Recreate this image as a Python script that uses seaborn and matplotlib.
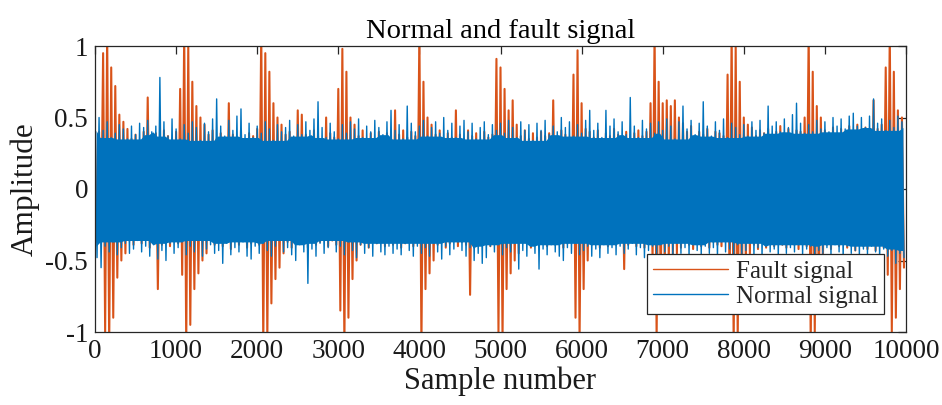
import numpy as np
import pandas as pd
import matplotlib
matplotlib.use("Agg")
import matplotlib.pyplot as plt
import seaborn as sns

# ---- data: per-50-sample envelope extremes ----
bin_width = 50

normal_upper = [
    .46, .50, .41, .47, .36, .39, .45, .42, .35, .44,
    .38, .46, .43, .48, .40, .44, .78, .47, .37, .49,
    .42, .35, .45, .39, .47, .43, .34, .46, .40, .49,
    .63, .44, .37, .48, .41, .51, .56, .38, .46, .36,
    .44, .39, .47, .42, .34, .45, .40, .43, .48, .37,
    .45, .38, .47, .41, .49, .61, .43, .36, .46, .40,
    .35, .45, .39, .47, .42, .49, .36, .44, .40, .48,
    .43, .38, .47, .55, .41, .45, .35, .58, .46, .40,
    .44, .48, .37, .43, .47, .39, .50, .41, .46, .36,
    .44, .48, .40, .46, .35, .43, .47, .38, .45, .41,
    .46, .39, .48, .43, .36, .47, .41, .45, .34, .46,
    .41, .48, .38, .44, .40, .50, .43, .47, .37, .45,
    .39, .48, .55, .41, .46, .36, .55, .44, .49, .40,
    .47, .38, .64, .44, .36, .48, .42, .46, .39, .47,
    .41, .49, .44, .35, .47, .58, .42, .48, .38, .46,
    .61, .44, .37, .47, .41, .49, .36, .46, .43, .38,
    .45, .37, .47, .41, .48, .39, .58, .44, .47, .40,
    .49, .43, .52, .60, .46, .39, .45, .40, .48, .42,
    .47, .40, .50, .44, .49, .42, .51, .53, .44, .50,
    .43, .51, .63, .46, .49, .41, .48, .43, .51, .47,
]
normal_lower = [
    -.48, -.55, -.40, -.44, -.37, -.46, -.41, -.38, -.45, -.42,
    -.36, -.44, -.40, -.47, -.39, -.49, -.43, -.50, -.38, -.45,
    -.41, -.37, -.46, -.40, -.44, -.36, -.47, -.42, -.39, -.45,
    -.43, -.52, -.38, -.46, -.41, -.44, -.37, -.47, -.49, -.40,
    -.45, -.38, -.43, -.47, -.40, -.36, -.44, -.41, -.46, -.50,
    -.39, -.44, -.66, -.42, -.47, -.38, -.45, -.41, -.36, -.44,
    -.40, -.46, -.37, -.43, -.48, -.39, -.45, -.41, -.47, -.38,
    -.44, -.46, -.40, -.45, -.42, -.46, -.38, -.43, -.47, -.40,
    -.45, -.41, -.47, -.38, -.44, -.49, -.40, -.46, -.42, -.37,
    -.43, -.47, -.41, -.50, -.45, -.52, -.48, -.40, -.44, -.39,
    -.46, -.41, -.44, -.38, -.56, -.43, -.47, -.40, -.45, -.56,
    -.42, -.46, -.39, -.44, -.47, -.50, -.41, -.45, -.38, -.46,
    -.43, -.40, -.47, -.42, -.48, -.39, -.45, -.41, -.46, -.40,
    -.45, -.42, -.38, -.46, -.41, -.48, -.43, -.40, -.45, -.39,
    -.44, -.40, -.46, -.38, -.45, -.41, -.47, -.39, -.43, -.46,
    -.40, -.45, -.41, -.48, -.37, -.44, -.42, -.46, -.39, -.45,
    -.43, -.38, -.46, -.41, -.47, -.40, -.44, -.42, -.48, -.39,
    -.45, -.41, -.44, -.39, -.46, -.42, -.40, -.47, -.43, -.45,
    -.41, -.46, -.39, -.44, -.48, -.40, -.45, -.43, -.47, -.42,
    -.46, -.40, -.44, -.49, -.42, -.47, -.43, -.52, -.45, -.48,
]
fault_upper = [
    .36, .40, .95, 1.10, .85, .72, .52, .47, .42, .35,
    .38, .33, .40, .64, .36, .39, .34, .41, .37, .35,
    .40, .70, 1.10, 1.00, .75, .58, .50, .45, .38, .41,
    .35, .39, .33, .60, .38, .36, .41, .34, .39, .37,
    .42, 1.10, .95, .82, .60, .50, .45, .38, .40, .35,
    .55, .52, .38, .35, .41, .37, .33, .50, .39, .36,
    .70, .98, .82, .50, .45, .37, .41, .35, .39, .34,
    .40, .36, .39, .35, .55, .38, .41, .36, .40, .37,
    1.10, .75, .50, .45, .38, .41, .35, .39, .36, .55,
    .38, .35, .41, .37, .39, .34, .40, .36, .38, .91,
    .85, .70, .55, .62, .45, .37, .41, .35, .39, .36,
    .40, .37, .39, .62, .35, .41, .38, .36, .80, .97,
    .60, .42, .40, .36, .41, .35, .39, .37, .42, .38,
    .36, .40, .35, .39, .41, .37, .40, .60, 1.10, .75,
    .60, .62, .58, .62, .50, .46, .40, .44, .37, .40,
    .38, .42, .36, .40, .39, .37, .80, 1.10, 1.00, .75,
    .50, .45, .43, .37, .41, .39, .42, .38, .40, .44,
    .39, .42, .37, .41, .40, .50, 1.10, .82, .58, .50,
    .41, .39, .43, .38, .42, .40, .44, .39, .45, .41,
    .43, .40, .62, .42, .45, .85, 1.10, .82, .55, .50,
]
fault_lower = [
    -.37, -.35, -1.00, -1.10, -.90, -.62, -.50, -.45, -.36, -.39,
    -.34, -.38, -.35, -.41, -.37, -.70, -.39, -.36, -.40, -.33,
    -.38, -.60, -1.10, -.95, -.70, -.59, -.50, -.45, -.36, -.39,
    -.35, -.40, -.37, -.42, -.34, -.39, -.36, -.41, -.38, -.35,
    -.39, -1.10, -1.05, -.80, -.63, -.55, -.45, -.37, -.41, -.35,
    -.38, -.36, -.41, -.35, -.39, -.37, -.34, -.40, -.36, -.39,
    -.85, -1.10, -.90, -.63, -.50, -.39, -.36, -.41, -.35, -.38,
    -.37, -.40, -.35, -.39, -.36, -.41, -.38, -.35, -.40, -.37,
    -1.10, -.70, -.59, -.50, -.39, -.36, -.41, -.38, -.35, -.40,
    -.37, -.39, -.74, -.41, -.36, -.39, -.35, -.40, -.37, -1.00,
    -1.05, -.70, -.59, -.50, -.45, -.37, -.38, -.41, -.35, -.39,
    -.36, -.40, -.37, -.39, -.35, -.41, -.38, -.36, -.90, -1.05,
    -.70, -.50, -.39, -.36, -.41, -.37, -.40, -.35, -.39, -.36,
    -.56, -.39, -.36, -.40, -.37, -.41, -.38, -.50, -1.05, -.70,
    -.55, -.50, -.48, -.45, -.41, -.37, -.39, -.42, -.36, -.40,
    -.38, -.41, -.37, -.39, -.40, -.36, -.70, -1.10, -1.05, -.70,
    -.50, -.45, -.39, -.42, -.37, -.41, -.38, -.40, -.36, -.39,
    -.41, -.37, -.39, -.42, -.38, -.40, -1.10, -1.00, -.70, -.50,
    -.39, -.42, -.37, -.40, -.38, -.41, -.39, -.43, -.37, -.40,
    -.42, -.39, -.43, -.38, -.41, -.60, -1.00, -.90, -.70, -.55,
]

series_names = ["Fault signal", "Normal signal"]
xticks = [0, 1000, 2000, 3000, 4000, 5000, 6000, 7000, 8000, 9000, 10000]
yticks = [-1, -0.5, 0, 0.5, 1]
ytick_labels = ["-1", "-0.5", "0", "0.5", "1"]

ORANGE = "#D95319"
BLUE = "#0072BD"
AXC = "#262626"


def trace(upper, lower, name):
    start = np.arange(len(upper)) * bin_width
    x = np.column_stack([start, start + bin_width / 2]).ravel()
    y = np.column_stack([upper, lower]).ravel()
    return pd.DataFrame({"Sample number": x, "Amplitude": y, "Signal": name})


def core(upper, lower, win):
    # solid body of the trace: the band that all neighbouring strokes cross
    u = pd.Series(upper).rolling(win, center=True, min_periods=1).min().to_numpy()
    l = pd.Series(lower).rolling(win, center=True, min_periods=1).max().to_numpy()
    x = np.arange(len(upper)) * bin_width + bin_width / 4
    return x, l, u


sns.set_theme(style="white")
plt.rcParams["font.family"] = ["Liberation Serif", "DejaVu Serif"]

fig = plt.figure(figsize=(9.42, 4.05), dpi=100)
ax = fig.add_axes([95 / 942, 1 - 332 / 405, 811 / 942, 286 / 405])

# fault signal (drawn first, underneath)
sns.lineplot(data=trace(fault_upper, fault_lower, series_names[0]),
             x="Sample number", y="Amplitude", sort=False, estimator=None,
             color=ORANGE, lw=1.5, label=series_names[0], zorder=1.5, ax=ax)

# normal signal on top, with its dense body filled
cx, cl, cu = core(normal_upper, normal_lower, 7)
ax.fill_between(cx, cl, cu, color=BLUE, lw=0, zorder=3)
sns.lineplot(data=trace(normal_upper, normal_lower, series_names[1]),
             x="Sample number", y="Amplitude", sort=False, estimator=None,
             color=BLUE, lw=1.0, label=series_names[1], zorder=3.5, ax=ax)

ax.set_xlim(0, 10000)
ax.set_ylim(-1, 1)
ax.set_xticks(xticks)
ax.set_xticklabels([str(t) for t in xticks])
ax.set_yticks(yticks)
ax.set_yticklabels(ytick_labels)
ax.tick_params(direction="in", top=True, right=True, length=6, width=0.9,
               color=AXC, labelsize=19.5, labelcolor="#1a1a1a", pad=5)
for s in ax.spines.values():
    s.set_visible(True)
    s.set_color(AXC)
    s.set_linewidth(0.9)
    s.set_zorder(6)

ax.set_title("Normal and fault signal", fontsize=20.5, color="black", pad=6)
ax.set_xlabel("Sample number", fontsize=22, color="#1a1a1a", labelpad=2)
ax.set_ylabel("Amplitude", fontsize=22.5, color="#1a1a1a", labelpad=4)

leg = ax.legend(loc="lower right", bbox_to_anchor=(0.973, 0.063),
                borderaxespad=0, fontsize=18, frameon=True, fancybox=False,
                edgecolor=AXC, framealpha=1, handlelength=3.0,
                handletextpad=0.3, labelspacing=0.1, borderpad=0.25)
leg.set_zorder(10)
leg.get_frame().set_linewidth(0.9)
for ln in leg.get_lines():
    ln.set_linewidth(1.0)

fig.savefig("out.png", dpi=100)
